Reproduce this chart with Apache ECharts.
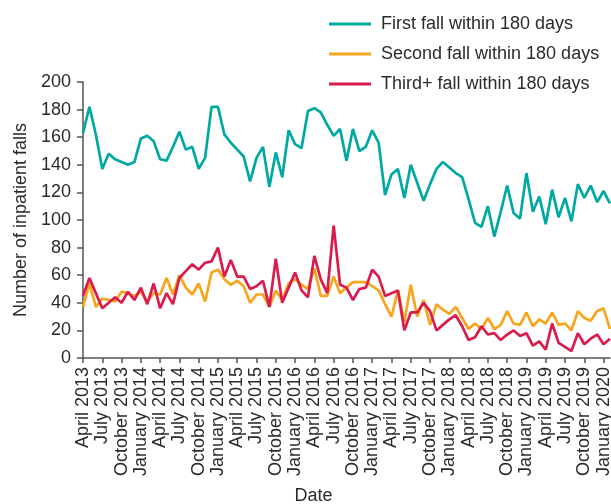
<!DOCTYPE html>
<html>
<head>
<meta charset="utf-8">
<style>
  html, body { margin: 0; padding: 0; background: #fff; }
  #chart { width: 611px; height: 504px; }
</style>
<script src="https://cdn.jsdelivr.net/npm/echarts@6/dist/echarts.min.js"></script>
</head>
<body>
<div id="chart"></div>
<script>
// Monthly inpatient falls, April 2013 – February 2020
var monthNames = ['January', 'February', 'March', 'April', 'May', 'June',
  'July', 'August', 'September', 'October', 'November', 'December'];
var startMonth = 3;   // April
var startYear = 2013;
var monthCount = 83;

var categories = [];
for (var k = 0; k < monthCount; k++) {
  var m = (startMonth + k) % 12;
  var y = startYear + Math.floor((startMonth + k) / 12);
  categories.push(monthNames[m] + ' ' + y);
}

var seriesNames = ['First fall within 180 days', 'Second fall within 180 days', 'Third+ fall within 180 days'];

var firstFall = [
  163, 182, 162, 137, 148, 144, 142, 140, 142, 159, 161, 157,
  144, 143, 153, 164, 151, 153, 137, 145, 182, 182, 162, 156,
  151, 146, 128, 145, 153, 124, 149, 131, 165, 155, 152, 179,
  181, 178, 169, 161, 166, 143, 166, 150, 153, 165, 156, 118,
  133, 137, 116, 140, 127, 114, 126, 137, 142, 138, 134, 131,
  115, 98, 95, 110, 88, 106, 125, 105, 101, 134, 106, 117,
  97, 122, 102, 116, 99, 126, 116, 125, 113, 121, 112
];

var secondFall = [
  37, 54, 37, 43, 42, 41, 48, 47, 45, 48, 41, 47,
  46, 58, 46, 60, 51, 46, 54, 41, 62, 64, 57, 53,
  56, 52, 40, 46, 46, 37, 49, 42, 54, 57, 53, 50,
  65, 45, 45, 59, 47, 51, 55, 55, 55, 52, 49, 39,
  30, 49, 26, 53, 30, 42, 24, 39, 35, 32, 37, 29,
  21, 25, 21, 29, 21, 24, 34, 25, 24, 33, 23, 28,
  25, 33, 24, 25, 20, 34, 29, 27, 34, 36, 21
];

var thirdFall = [
  45, 58, 47, 36, 40, 44, 40, 48, 42, 51, 39, 54,
  36, 47, 39, 58, 63, 68, 64, 69, 70, 80, 59, 71,
  59, 59, 50, 52, 56, 37, 72, 40, 51, 62, 49, 44,
  74, 57, 47, 96, 53, 51, 42, 50, 51, 64, 59, 45,
  47, 49, 20, 33, 33, 40, 34, 20, 24, 28, 31, 23,
  13, 15, 23, 17, 18, 13, 17, 20, 16, 18, 9, 12,
  6, 25, 11, 8, 5, 18, 10, 14, 17, 10, 14
];

var colors = ['#00a8a2', '#f8a51e', '#d91c4b'];
var fontFamily = '"Liberation Sans", Arial, Helvetica, sans-serif';
var textColor = '#2b2b2b';
var axisColor = '#555555';
var lineWidth = 2.7;

var chart = echarts.init(document.getElementById('chart'), null, { renderer: 'canvas' });

chart.setOption({
  animation: false,
  backgroundColor: '#ffffff',
  color: colors,
  textStyle: { fontFamily: fontFamily, color: textColor },
  legend: {
    orient: 'vertical',
    left: 324,
    top: 10,
    itemWidth: 42,
    itemHeight: 3,
    itemGap: 12,
    icon: 'rect',
    data: seriesNames,
    textStyle: {
      fontFamily: fontFamily,
      fontSize: 18,
      lineHeight: 18,
      color: textColor,
      padding: [0, 0, 0, 5]
    }
  },
  grid: {
    left: 83,
    right: 1,
    top: 82,
    bottom: 146,
    containLabel: false,
    outerBoundsMode: 'none'
  },
  xAxis: {
    type: 'category',
    data: categories,
    boundaryGap: false,
    name: 'Date',
    nameLocation: 'middle',
    nameGap: 129,
    nameTextStyle: {
      fontFamily: fontFamily,
      fontSize: 18,
      color: textColor,
      padding: [0, 66, 0, 0]
    },
    axisLine: { show: true, lineStyle: { color: axisColor, width: 1.5 } },
    axisTick: { show: true, interval: 2, length: 5, lineStyle: { color: axisColor, width: 1.5 } },
    axisLabel: {
      interval: 2,
      rotate: 90,
      margin: 9,
      fontFamily: fontFamily,
      fontSize: 18,
      color: textColor
    },
    splitLine: { show: false }
  },
  yAxis: {
    type: 'value',
    min: 0,
    max: 200,
    interval: 20,
    name: 'Number of inpatient falls',
    nameLocation: 'middle',
    nameGap: 51,
    nameTextStyle: {
      fontFamily: fontFamily,
      fontSize: 18,
      color: textColor
    },
    axisLine: { show: true, lineStyle: { color: axisColor, width: 1.5 } },
    axisTick: { show: true, length: 6, lineStyle: { color: axisColor, width: 1.5 } },
    axisLabel: {
      margin: 12,
      fontFamily: fontFamily,
      fontSize: 18,
      color: textColor
    },
    splitLine: { show: false }
  },
  series: [
    {
      name: seriesNames[0],
      type: 'line',
      data: firstFall,
      symbol: 'none',
      lineStyle: { width: lineWidth, color: colors[0] },
      itemStyle: { color: colors[0] }
    },
    {
      name: seriesNames[1],
      type: 'line',
      data: secondFall,
      symbol: 'none',
      lineStyle: { width: lineWidth, color: colors[1] },
      itemStyle: { color: colors[1] }
    },
    {
      name: seriesNames[2],
      type: 'line',
      data: thirdFall,
      symbol: 'none',
      lineStyle: { width: lineWidth, color: colors[2] },
      itemStyle: { color: colors[2] }
    }
  ]
});
</script>
</body>
</html>
